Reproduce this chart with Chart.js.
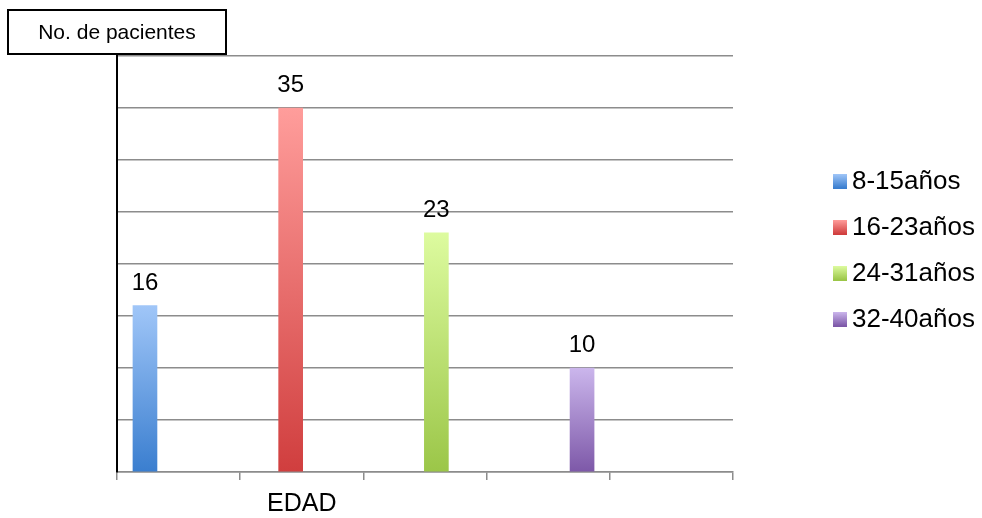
<!DOCTYPE html>
<html>
<head>
<meta charset="utf-8">
<script src="https://cdn.jsdelivr.net/npm/chart.js@4/dist/chart.umd.min.js"></script>
<style>
  body { margin: 0; background: #fff; }
  #wrap { width: 982px; height: 518px; position: relative; }
</style>
</head>
<body>
<div id="wrap"><canvas id="bar-chart"></canvas></div>
<script>
// data
const categories = ["8-15años", "16-23años", "24-31años", "32-40años"];
const values = [16, 35, 23, 10];
const axisLabels = ["", "EDAD", "", "", ""];
const yTitle = "No. de pacientes";

const topColors = ["#a0c6f8", "#ff9d9b", "#ddfb9f", "#cbb6ec"];
const bottomColors = ["#3a7ecf", "#d03e3e", "#9bc648", "#7d58a8"];
const FONT = "'Liberation Sans', Arial, sans-serif";
const GRID = "#8c8c8c";

function barFill(ctx, i) {
    const chart = ctx.chart;
    if (!chart.chartArea || ctx.type !== 'data') return bottomColors[i];
    const y = chart.scales.y;
    const top = y.getPixelForValue(ctx.raw.y);
    const bot = y.getPixelForValue(0);
    const g = chart.ctx.createLinearGradient(0, top, 0, bot);
    g.addColorStop(0, topColors[i]);
    g.addColorStop(1, bottomColors[i]);
    return g;
}

const extras = {
    id: 'extras',
    afterDatasetsDraw(chart) {
        const c = chart.ctx;
        c.save();
        // value labels over the bars
        c.fillStyle = '#000';
        c.font = '24px ' + FONT;
        c.textAlign = 'center';
        c.textBaseline = 'alphabetic';
        chart.data.datasets.forEach((ds, i) => {
            const el = chart.getDatasetMeta(i).data[0];
            c.fillText(String(values[i]), el.x, el.y - 16);
        });
        // y title box
        const ax = chart.chartArea.left;
        c.lineWidth = 2;
        c.strokeStyle = '#000';
        c.fillStyle = '#fff';
        c.fillRect(8, 10, 218, 44);
        c.strokeRect(8, 10, 218, 44);
        c.fillStyle = '#000';
        c.font = '21px ' + FONT;
        c.textBaseline = 'middle';
        c.fillText(yTitle, ax, 33);
        // legend
        c.textAlign = 'left';
        c.font = '26px ' + FONT;
        categories.forEach((name, i) => {
            const cy = 181 + i * 46;
            const g = c.createLinearGradient(0, cy - 7, 0, cy + 7);
            g.addColorStop(0, topColors[i]);
            g.addColorStop(1, bottomColors[i]);
            c.fillStyle = g;
            c.fillRect(833, cy - 7, 14, 15);
            c.fillStyle = '#000';
            c.fillText(name, 852, cy + 1);
        });
        c.restore();
    }
};

new Chart(document.getElementById("bar-chart"), {
    type: 'bar',
    data: {
        labels: axisLabels,
        datasets: categories.map((name, i) => ({
            label: name,
            data: [{ x: i, y: values[i] }],
            xAxisID: 'xb',
            backgroundColor: ctx => barFill(ctx, i),
            barThickness: 24,
            grouped: false
        }))
    },
    options: {
        responsive: true,
        maintainAspectRatio: false,
        animation: false,
        layout: { padding: { left: 117, right: 249, top: 56, bottom: 0 } },
        plugins: {
            legend: { display: false },
            tooltip: { enabled: false }
        },
        scales: {
            xb: {
                type: 'linear',
                display: false,
                offset: false,
                min: -0.192,
                max: 4.036
            },
            x: {
                type: 'category',
                offset: true,
                afterFit(scale) { scale.height = 46; },
                grid: {
                    offset: true,
                    drawOnChartArea: false,
                    drawTicks: true,
                    tickLength: 8,
                    color: GRID,
                    lineWidth: 1.5
                },
                border: { color: GRID, width: 1.5 },
                ticks: {
                    color: '#000',
                    padding: 12,
                    font: { family: FONT, size: 25, lineHeight: 1 },
                    maxRotation: 0,
                    autoSkip: false
                }
            },
            y: {
                min: 0,
                max: 40,
                ticks: { display: false, stepSize: 5 },
                grid: { color: GRID, lineWidth: 1.5, drawTicks: false },
                border: { color: '#000', width: 2 }
            }
        }
    },
    plugins: [extras]
});
</script>
</body>
</html>
